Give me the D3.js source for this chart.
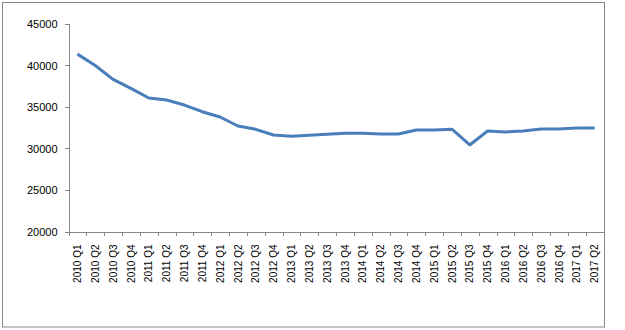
<!DOCTYPE html>
<html lang="en">
<head>
    <meta charset="UTF-8">
    <script src="https://cdn.jsdelivr.net/npm/d3@7/dist/d3.min.js"></script>
    <title>Quarterly series 2010-2017</title>
    <style>
        body {
            margin: 0;
            background: #ffffff;
        }

        svg {
            display: block;
            font-family: "DejaVu Sans", Verdana, sans-serif;
        }

        .axis path, .axis line {
            stroke: #868686;
            stroke-width: 1px;
            shape-rendering: crispEdges;
        }

        .axis text {
            fill: #000000;
        }
    </style>
</head>
<body>
<svg width="625" height="330"></svg>

<script>
    const WIDTH = 625;
    const HEIGHT = 330;
    const PLOT_LEFT = 68.5;
    const PLOT_RIGHT = 603.5;
    const PLOT_TOP = 23.5;
    const PLOT_BOTTOM = 231.5;

    const years = [2010, 2011, 2012, 2013, 2014, 2015, 2016, 2017];
    const quarters = [];
    years.forEach(y => ["Q1", "Q2", "Q3", "Q4"].forEach(q => quarters.push(y + " " + q)));
    const categories = quarters.slice(0, 30);

    const values = [
        41320, 39950, 38280, 37200,
        36040, 35800, 35200, 34400,
        33760, 32680, 32280, 31600,
        31440, 31560, 31700, 31820,
        31820, 31720, 31720, 32200,
        32200, 32300, 30400, 32080,
        31960, 32080, 32320, 32320,
        32440, 32440
    ];

    const yTicks = [20000, 25000, 30000, 35000, 40000, 45000];

    function init() {
        const svg = d3.select("svg");

        // outer frame
        svg.append("rect")
            .attr("x", 2.5)
            .attr("y", 2.5)
            .attr("width", 602)
            .attr("height", 324.5)
            .attr("fill", "none")
            .attr("stroke", "#878787")
            .attr("stroke-width", 1);

        const x = d3.scaleBand()
            .domain(categories)
            .range([PLOT_LEFT, PLOT_RIGHT]);

        const y = d3.scaleLinear()
            .domain([20000, 45000])
            .range([PLOT_BOTTOM, PLOT_TOP]);

        drawAxes(svg, x, y);
        drawLine(svg, x, y);
    }

    function drawAxes(svg, x, y) {
        svg.append("g")
            .attr("class", "axis left")
            .attr("transform", `translate(${PLOT_LEFT}, 0)`)
            .style("font-size", "11px")
            .call(d3.axisLeft(y)
                .tickValues(yTicks)
                .tickSize(4)
                .tickSizeOuter(0)
                .tickPadding(7)
                .tickFormat(d3.format("d")))
            .call(g => g.selectAll("text").attr("dy", "0.36em"));

        // tick marks between categories
        const idx = d3.scaleLinear()
            .domain([0, categories.length])
            .range([PLOT_LEFT, PLOT_RIGHT]);

        svg.append("g")
            .attr("class", "axis bottom")
            .attr("transform", `translate(0, ${PLOT_BOTTOM})`)
            .call(d3.axisBottom(idx)
                .tickValues(d3.range(categories.length + 1))
                .tickSize(4)
                .tickSizeOuter(0)
                .tickFormat(""));

        // category labels
        const labels = svg.append("g")
            .attr("class", "axis labels")
            .attr("transform", `translate(0, ${PLOT_BOTTOM})`)
            .style("font-size", "10px")
            .call(d3.axisBottom(x).tickSize(0).tickSizeOuter(0));

        labels.select(".domain").remove();
        labels.selectAll("text")
            .attr("transform", "rotate(-90)")
            .attr("text-anchor", "end")
            .attr("x", -13)
            .attr("y", 0)
            .attr("dy", "0.36em");
    }

    function drawLine(svg, x, y) {
        const line = d3.line()
            .x((d, i) => x(categories[i]) + x.bandwidth() / 2)
            .y(d => y(d));

        svg.append("path")
            .datum(values)
            .attr("fill", "none")
            .attr("stroke", "#4a7ebb")
            .attr("stroke-width", 3)
            .attr("stroke-linejoin", "round")
            .attr("d", line);
    }

    init();
</script>
</body>
</html>
